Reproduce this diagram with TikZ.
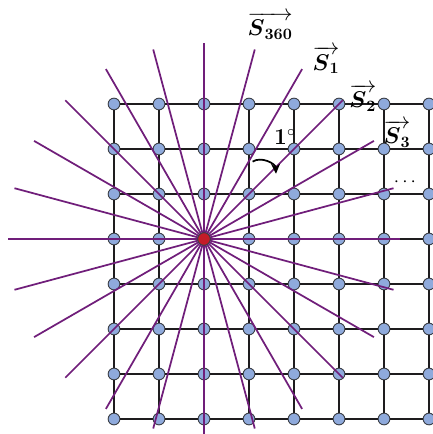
\documentclass[tikz,border=0pt]{standalone}
\usepackage{amsmath,amssymb}
\usetikzlibrary{arrows.meta, positioning}

\definecolor{dotblue}{RGB}{143,170,220}
\definecolor{dotedge}{RGB}{60,64,72}
\definecolor{centrered}{RGB}{196,28,40}
\definecolor{raypurple}{RGB}{112,30,122}
\definecolor{gridblack}{RGB}{30,28,30}

\begin{document}
\begin{tikzpicture}[
  dot/.style = {draw=dotedge, fill=dotblue, circle, line width=0.6pt, inner sep=0pt, minimum size=7.4pt},
  centre/.style = {draw=dotedge, fill=centrered, circle, line width=0.6pt, inner sep=0pt, minimum size=8pt},
  gridline/.style = {draw=gridblack, line width=1.8pt},
  seg15/.style = {line width=0.7pt},
  ray/.style = {draw=raypurple, line width=1.1pt},
  vec/.style = {font=\Large, inner sep=1pt},
  turn/.style = {line width=1.1pt, -{Stealth[length=2.2mm, width=2mm]}, bend left=60}
]
  \useasboundingbox (-4.533,-4.333) rectangle (5.067,5.311);

  % Nodes
  \coordinate (o) at (0,0);
  \foreach \x in {0,...,7}
    \foreach \y in {0,...,7}
      \node[dot] (n\x\y) at (\x-2,3-\y) {};

  % Grid
  \foreach \y in {0,...,7}
    \foreach \x/\xn in {0/1,1/2,2/3,3/4,4/5,5/6,6/7}
      \draw[gridline, seg\x\y/.try] (n\x\y) -- (n\xn\y);
  \foreach \x in {0,...,7}
    \foreach \y/\yn in {0/1,1/2,2/3,3/4,4/5,5/6,6/7}
      \draw[gridline] (n\x\y) -- (n\x\yn);

  % Rays, every 15 degrees
  \foreach \a in {0,15,...,345}
    \path[ray] (o) -- ++(\a:4.36) coordinate (r\a);
  \node[centre] (c) at (o) {};

  % Labels
  \node[vec] (s360) at (1.47,4.74) {$\overrightarrow{\boldsymbol{S}_{\mathbf{360}}}$};
  \node[vec] (s1) at (2.71,3.98) {$\overrightarrow{\boldsymbol{S}_{\mathbf{1}}}$};
  \node[vec] (s2) at (3.53,3.14) {$\overrightarrow{\boldsymbol{S}_{\mathbf{2}}}$};
  \node[vec] (s3) at (4.29,2.34) {$\overrightarrow{\boldsymbol{S}_{\mathbf{3}}}$};
  \node[font=\large] (more) at (4.5,1.26) {$\cdots$};
  \node[font=\Large\bfseries] (deg) at (1.8,2.27) {1$^{\circ}$};

  % Angle step
  \coordinate (t1) at (1.08,1.72);
  \coordinate (t2) at (1.6,1.45);
  \draw[turn] (t1) to (t2);

\end{tikzpicture}
\end{document}
